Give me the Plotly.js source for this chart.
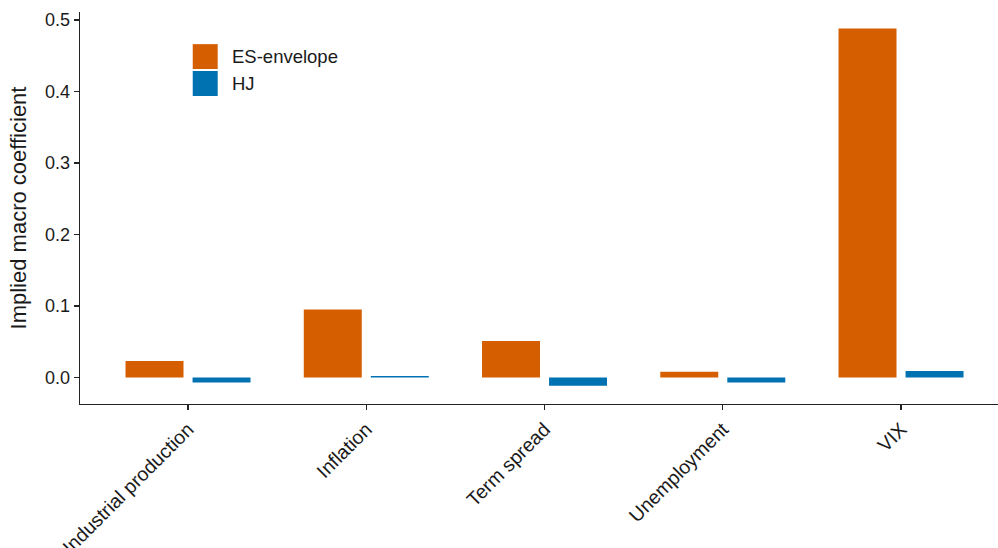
<!DOCTYPE html>
<html>
<head>
<meta charset="utf-8">
<script src="https://cdn.plot.ly/plotly-3.0.1.min.js"></script>
<style>
  html, body { margin: 0; padding: 0; background: #ffffff; }
  #chart { width: 998px; height: 548px; }
</style>
</head>
<body>
<div id="chart"></div>
<script>
const categories = ['Industrial production', 'Inflation', 'Term spread', 'Unemployment', 'VIX'];
const seriesNames = ['ES-envelope', 'HJ'];
const esEnvelope = [0.023, 0.095, 0.051, 0.008, 0.488];
const hj = [-0.007, 0.002, -0.0115, -0.007, 0.009];
const yTicks = [0.0, 0.1, 0.2, 0.3, 0.4, 0.5];
const colors = ['#D55E00', '#0072B2'];

const FONT = 'Liberation Sans, Arial, Helvetica, sans-serif';
const AXIS = '#222222';

const traces = [esEnvelope, hj].map((vals, i) => ({
  type: 'bar',
  name: seriesNames[i],
  x: categories,
  y: vals,
  marker: { color: colors[i], line: { width: 0 } },
  showlegend: false,
  hoverinfo: 'x+y+name'
}));

// legend drawn as paper-referenced swatches and labels
const legX0 = 0.1228, legX1 = 0.15, legTextX = 0.1634;
const legRows = [[0.918, 0.8546, 0.8865], [0.8495, 0.7857, 0.8176]];
const shapes = legRows.map((r, i) => ({
  type: 'rect', xref: 'paper', yref: 'paper',
  x0: legX0, x1: legX1, y0: r[1], y1: r[0],
  fillcolor: colors[i], line: { width: 0 }
}));
const annotations = legRows.map((r, i) => ({
  xref: 'paper', yref: 'paper', x: legTextX, y: r[2],
  xanchor: 'left', yanchor: 'middle', showarrow: false,
  text: seriesNames[i], font: { family: FONT, size: 18.5, color: '#1a1a1a' }
}));

const layout = {
  width: 998, height: 548,
  margin: { l: 80, r: 0, t: 12, b: 144, pad: 0 },
  paper_bgcolor: '#ffffff', plot_bgcolor: '#ffffff',
  font: { family: FONT, color: '#1a1a1a' },
  barmode: 'group',
  bargap: 0.248,
  bargroupgap: 0.135,
  showlegend: false,
  xaxis: {
    type: 'category',
    range: [-0.606, 4.544],
    showline: true, linecolor: AXIS, linewidth: 1.3,
    ticks: 'outside', ticklen: 5, tickwidth: 1.3, tickcolor: AXIS,
    tickangle: -45,
    tickfont: { family: FONT, size: 19.5, color: '#1a1a1a' },
    showgrid: false, zeroline: false
  },
  yaxis: {
    range: [-0.037, 0.511],
    tickvals: yTicks,
    tickformat: '.1f',
    showline: true, linecolor: AXIS, linewidth: 1.3,
    ticks: 'outside', ticklen: 5, tickwidth: 1.3, tickcolor: AXIS,
    tickfont: { family: FONT, size: 18, color: '#1a1a1a' },
    showgrid: false, zeroline: false,
    title: { text: 'Implied macro coefficient', font: { family: FONT, size: 22, color: '#1a1a1a' }, standoff: 12 }
  },
  shapes: shapes,
  annotations: annotations
};

Plotly.newPlot('chart', traces, layout, { displayModeBar: false, staticPlot: true });
</script>
</body>
</html>
